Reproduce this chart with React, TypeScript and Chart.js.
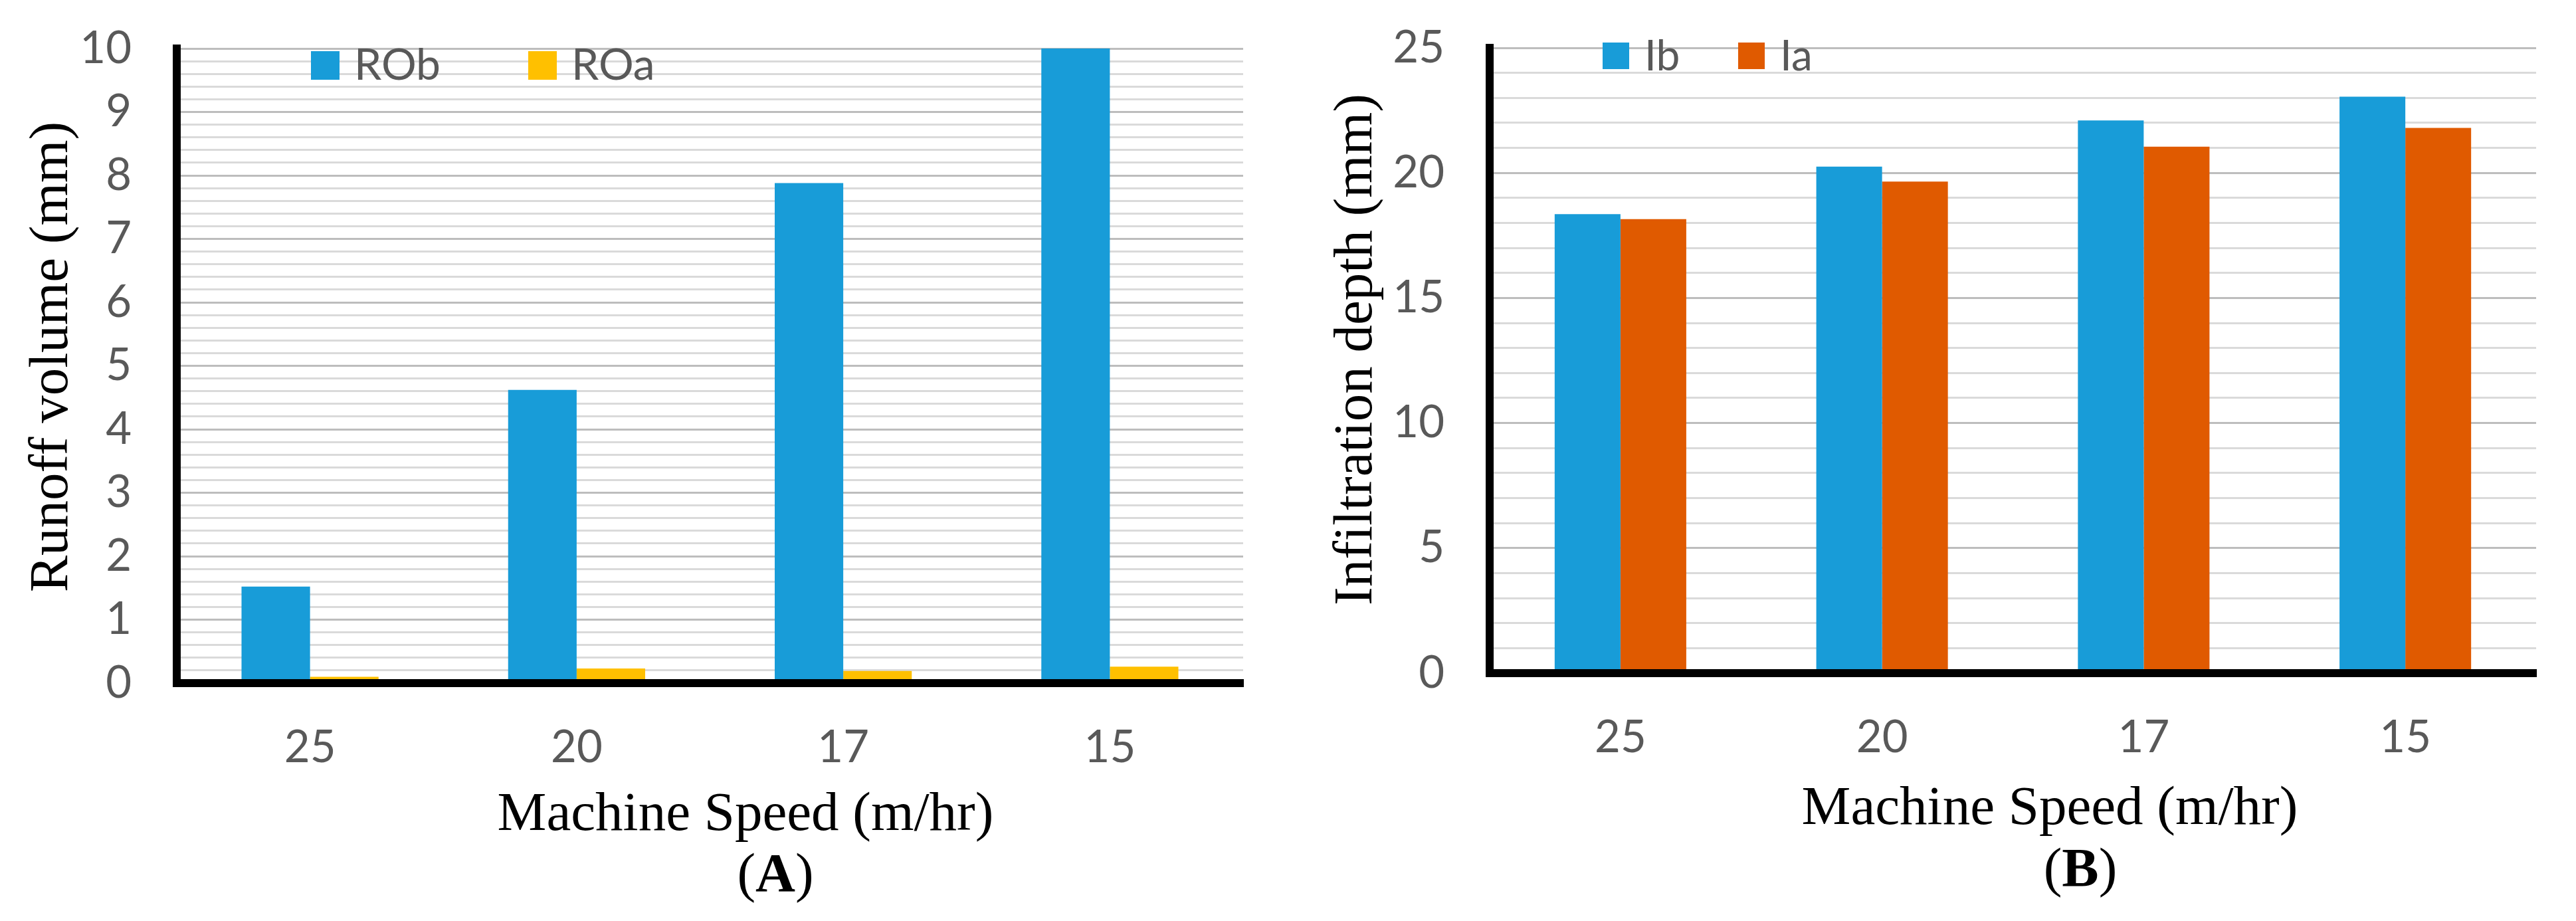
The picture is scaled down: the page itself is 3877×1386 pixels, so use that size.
import React, { useEffect, useRef } from "react";
import { Chart, registerables } from "chart.js";

Chart.register(...registerables);

// machine speed (m/hr), same categories for both panels
const speedLabels = ["25", "20", "17", "15"];

// panel A: runoff volume (mm), before / after
const runoffBefore = [1.52, 4.62, 7.88, 10.0];
const runoffAfter = [0.1, 0.23, 0.19, 0.26];

// panel B: infiltration depth (mm), before / after
const infiltrationBefore = [18.35, 20.25, 22.1, 23.05];
const infiltrationAfter = [18.15, 19.65, 21.05, 21.8];

const BLUE = "#189cd8";
const YELLOW = "#ffc000";
const ORANGE = "#e05a00";
const GREY_TEXT = "#595959";
const SANS = "Lato, 'Open Sans', sans-serif";
const SERIF = "'Liberation Serif', 'DejaVu Serif', 'Times New Roman', serif";

const H = 1386;

// legend drawn inside the plot, Excel style
const insideLegend = {
  id: "insideLegend",
  afterDraw(chart: any, _args: any, o: any) {
    const { ctx } = chart;
    ctx.save();
    ctx.font = `${o.fontSize}px ${SANS}`;
    ctx.textAlign = "left";
    ctx.textBaseline = "alphabetic";
    chart.data.datasets.forEach((ds: any, i: number) => {
      const x = o.boxX[i];
      ctx.fillStyle = ds.backgroundColor;
      ctx.fillRect(x, o.boxY, o.box, o.box);
      ctx.fillStyle = GREY_TEXT;
      ctx.fillText(ds.label, x + o.box + o.gap, o.baseline);
    });
    ctx.restore();
  },
};

// axis titles + panel letter
const captions = {
  id: "captions",
  afterDraw(chart: any, _args: any, o: any) {
    const { ctx } = chart;
    const normal = `${o.size}px ${SERIF}`;
    const bold = `bold ${o.size}px ${SERIF}`;
    ctx.save();
    ctx.fillStyle = "#000";
    ctx.textBaseline = "alphabetic";

    ctx.font = normal;
    ctx.textAlign = "center";
    ctx.fillText(o.xTitle, o.xTitleX, o.xTitleY);

    ctx.textAlign = "left";
    const wOpen = ctx.measureText("(").width;
    const wClose = ctx.measureText(")").width;
    ctx.font = bold;
    const wLetter = ctx.measureText(o.panel).width;
    let x = o.panelX - (wOpen + wLetter + wClose) / 2;
    ctx.font = normal;
    ctx.fillText("(", x, o.panelY);
    x += wOpen;
    ctx.font = bold;
    ctx.fillText(o.panel, x, o.panelY);
    x += wLetter;
    ctx.font = normal;
    ctx.fillText(")", x, o.panelY);

    ctx.translate(o.yTitleX, o.yTitleY);
    ctx.rotate(-Math.PI / 2);
    ctx.textAlign = "center";
    ctx.fillText(o.yTitle, 0, 0);
    ctx.restore();
  },
};

const isMultiple = (v: number, every: number) => Math.abs(v / every - Math.round(v / every)) < 1e-6;

function makeScales(max: number, step: number, major: number, leftW: number, bottomH: number) {
  return {
    x: {
      afterFit: (s: any) => {
        s.height = bottomH;
        s.paddingLeft = 0;
        s.paddingRight = 0;
      },
      grid: { display: false, drawTicks: false },
      border: { color: "#000", width: 12, z: 1 },
      ticks: { padding: 57, color: GREY_TEXT, font: { family: SANS, size: 67 } },
    },
    y: {
      min: 0,
      max,
      afterFit: (s: any) => {
        s.width = leftW;
        // keep the plot top where the layout padding puts it
        s.paddingTop = 0;
        s.paddingBottom = 0;
      },
      grid: {
        drawTicks: false,
        lineWidth: 3,
        color: (c: any) => (c.tick && isMultiple(c.tick.value, major) ? "#bdbdbd" : "#dadada"),
      },
      border: { color: "#000", width: 12, z: 1 },
      ticks: {
        stepSize: step,
        autoSkip: false,
        maxTicksLimit: 200,
        padding: 68,
        color: GREY_TEXT,
        font: { family: SANS, size: 67 },
        callback: (v: any) => (isMultiple(Number(v), major) ? String(Math.round(Number(v))) : ""),
      },
    },
  };
}

export default function App() {
  const runoffRef = useRef<HTMLCanvasElement | null>(null);
  const infilRef = useRef<HTMLCanvasElement | null>(null);

  useEffect(() => {
    document.body.style.margin = "0";
    const charts: Chart[] = [];

    if (runoffRef.current) {
      charts.push(
        new Chart(runoffRef.current, {
          type: "bar",
          data: {
            labels: speedLabels,
            datasets: [
              { label: "ROb", data: runoffBefore, backgroundColor: BLUE, categoryPercentage: 0.514, barPercentage: 1, borderWidth: 0 },
              { label: "ROa", data: runoffAfter, backgroundColor: YELLOW, categoryPercentage: 0.514, barPercentage: 1, borderWidth: 0 },
            ],
          },
          options: {
            responsive: false,
            animation: false,
            devicePixelRatio: 1,
            layout: { padding: { left: 0, top: 73, right: 67, bottom: 0 } },
            scales: makeScales(10, 0.2, 1, 266, H - 1028) as any,
            plugins: {
              legend: { display: false },
              tooltip: { enabled: false },
              insideLegend: { boxX: [468, 795], boxY: 77, box: 43, gap: 22, baseline: 120, fontSize: 66 },
              captions: {
                size: 83,
                xTitle: "Machine Speed (m/hr)",
                xTitleX: 1122,
                xTitleY: 1249,
                panel: "A",
                panelX: 1167,
                panelY: 1341,
                yTitle: "Runoff volume (mm)",
                yTitleX: 101,
                yTitleY: 537,
              },
            } as any,
          },
          plugins: [insideLegend, captions],
        })
      );
    }

    if (infilRef.current) {
      charts.push(
        new Chart(infilRef.current, {
          type: "bar",
          data: {
            labels: speedLabels,
            datasets: [
              { label: "Ib", data: infiltrationBefore, backgroundColor: BLUE, categoryPercentage: 0.503, barPercentage: 1, borderWidth: 0 },
              { label: "Ia", data: infiltrationAfter, backgroundColor: ORANGE, categoryPercentage: 0.503, barPercentage: 1, borderWidth: 0 },
            ],
          },
          options: {
            responsive: false,
            animation: false,
            devicePixelRatio: 1,
            layout: { padding: { left: 0, top: 72, right: 60, bottom: 0 } },
            scales: makeScales(25, 1, 5, 304, H - 1013) as any,
            plugins: {
              legend: { display: false },
              tooltip: { enabled: false },
              insideLegend: { boxX: [474, 678], boxY: 64, box: 40, gap: 23, baseline: 106, fontSize: 64 },
              captions: {
                size: 83,
                xTitle: "Machine Speed (m/hr)",
                xTitleX: 1147,
                xTitleY: 1240,
                panel: "B",
                panelX: 1193,
                panelY: 1333,
                yTitle: "Infiltration depth (mm)",
                yTitleX: 126,
                yTitleY: 526,
              },
            } as any,
          },
          plugins: [insideLegend, captions],
        })
      );
    }

    return () => {
      charts.forEach((c) => c.destroy());
    };
  }, []);

  return (
    <div style={{ position: "fixed", left: 0, top: 0, width: 3877, height: H, background: "#fff" }}>
      <div style={{ position: "absolute", left: 0, top: 0, width: 1938, height: H }}>
        <canvas ref={runoffRef} width={1938} height={H} />
      </div>
      <div style={{ position: "absolute", left: 1938, top: 0, width: 1939, height: H }}>
        <canvas ref={infilRef} width={1939} height={H} />
      </div>
    </div>
  );
}
